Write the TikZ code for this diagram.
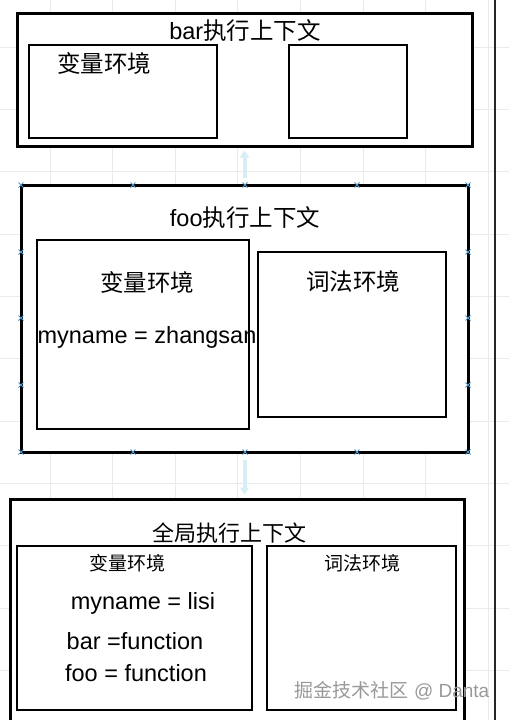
\documentclass[tikz,border=0pt]{standalone}
\usepackage{fontspec}
\setmainfont{Liberation Sans}
\newfontfamily\cjk{Noto Sans CJK SC}
\usetikzlibrary{arrows.meta}
\definecolor{gridgray}{RGB}{234,234,234}
\definecolor{handleblue}{RGB}{80,150,200}
\definecolor{hintcyan}{RGB}{215,238,245}

\begin{document}
\begin{tikzpicture}[
        x=1pt, y=-1pt,
        ctxbox/.style={rectangle, draw, fill=white, line width=3pt, inner sep=0pt},
        envbox/.style={rectangle, draw, fill=white, line width=2.8pt, inner sep=0pt},
        txt/.style={inner sep=0pt, font=\fontsize{23.5}{26}\selectfont},
        smalltxt/.style={inner sep=0pt, font=\fontsize{19}{22}\selectfont},
        hint/.style={-{Triangle[width=9pt,length=7pt]}, hintcyan, line width=4pt, shorten <=6pt, shorten >=3pt},
        >=Stealth
    ]
        \clip (0,0) rectangle (509,720);
        \fill[white] (0,0) rectangle (509,720);
        % Background grid
        \foreach \gx in {0,...,7} {
            \draw[gridgray, line width=0.8pt] (50+\gx*62.6,0) -- (50+\gx*62.6,720);
        }
        \foreach \gy in {0,...,10} {
            \draw[gridgray, line width=0.8pt] (0,47.2+\gy*62.3) -- (509,47.2+\gy*62.3);
        }
        \coordinate (railtop) at (495,0);
        \coordinate (railbot) at (495,720);
        \draw[line width=2.4pt, black!85] (railtop) -- (railbot);

        % bar context
        \node[ctxbox, minimum width=455pt, minimum height=133pt] (bar) at (244.5,79.5) {};
        \node[envbox, minimum width=188pt, minimum height=93pt] (barVE) at (123,91.5) {};
        \node[envbox, minimum width=118pt, minimum height=93pt] (barLE) at (348,91.5) {};
        \node[txt] (barT) at (245,31) {bar{\cjk 执行上下文}};
        \node[txt] (barVEt) at (104,63) {\cjk 变量环境};

        % foo context
        \node[ctxbox, minimum width=447pt, minimum height=267pt] (foo) at (244.5,318.5) {};
        \node[envbox, minimum width=212pt, minimum height=189pt] (fooVE) at (143,334.5) {};
        \node[envbox, minimum width=188pt, minimum height=165pt] (fooLE) at (352,334.5) {};
        \node[txt] (fooT) at (245,218) {foo{\cjk 执行上下文}};
        \node[txt] (fooVEt) at (147,282) {\cjk 变量环境};
        \node[txt] (fooLEt) at (353,282) {\cjk 词法环境};
        \node[txt] (fooName) at (147,337) {myname = zhangsan};
        % selection handles
        \foreach \hx in {21,133,245,357,468} {
            \foreach \hy in {185,452} {
                \draw[handleblue, line width=1pt] (\hx-2.5,\hy-2.5) -- (\hx+2.5,\hy+2.5) (\hx-2.5,\hy+2.5) -- (\hx+2.5,\hy-2.5);
            }
        }
        \foreach \hy in {252,318,385} {
            \foreach \hx in {21,468} {
                \draw[handleblue, line width=1pt] (\hx-2.5,\hy-2.5) -- (\hx+2.5,\hy+2.5) (\hx-2.5,\hy+2.5) -- (\hx+2.5,\hy-2.5);
            }
        }

        % global context
        \node[ctxbox, minimum width=454pt, minimum height=228pt] (glob) at (237,613) {};
        \node[envbox, minimum width=235pt, minimum height=164pt] (globVE) at (134.5,628) {};
        \node[envbox, minimum width=189pt, minimum height=164pt] (globLE) at (361.5,628) {};
        \node[txt, font=\fontsize{22}{26}\selectfont] (globT) at (229,533) {\cjk 全局执行上下文};
        \node[smalltxt] (globVEt) at (127,563) {\cjk 变量环境};
        \node[smalltxt] (globLEt) at (362,563) {\cjk 词法环境};
        \node[txt] (globName) at (143,603) {myname = lisi};
        \node[txt] (globBar) at (135,641) {bar =function};
        \node[txt] (globFoo) at (136,673) {foo = function};

        % faint hints between contexts
        \draw[hint] (foo.north) -- (bar.south);
        \draw[hint] (foo.south) -- (foo.south |- glob.north);

        % watermark
        \node[smalltxt, text=black!40] (mark) at (392,691) {{\cjk 掘金技术社区} @ Danta};
    \end{tikzpicture}
\end{document}
